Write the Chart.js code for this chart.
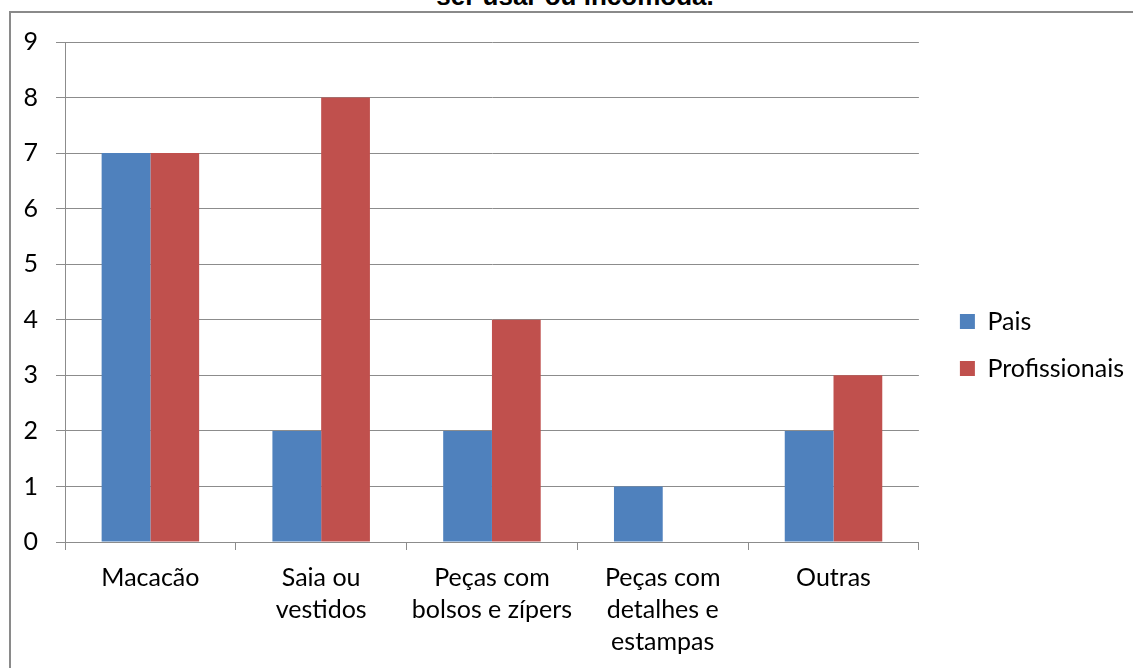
<!DOCTYPE html>
<html lang="pt">
<head>
    <meta charset="UTF-8">
    <title>Peças de roupa</title>
    <script src="https://cdn.jsdelivr.net/npm/chart.js"></script>
    <style>
        html, body {
            margin: 0;
            padding: 0;
            background: #ffffff;
            overflow: hidden;
        }
        .frame {
            position: absolute;
            left: 9px;
            top: 11px;
            width: 1300px;
            height: 800px;
            border: 2px solid #8a8a8a;
        }
        .chart-title {
            position: absolute;
            left: 0;
            width: 1150px;
            top: -19px;
            line-height: 30px;
            text-align: center;
            font-family: "Liberation Sans", Arial, sans-serif;
            font-weight: bold;
            font-size: 26px;
            color: #000;
        }
        .chart-box {
            position: absolute;
            left: 0;
            top: 0;
            width: 1133px;
            height: 668px;
        }
    </style>
</head>
<body>
    <div class="frame"></div>
    <div class="chart-title">ser usar ou incomoda.</div>
    <div class="chart-box">
        <canvas id="roupasChart"></canvas>
    </div>

    <script>
        // Categorias e valores
        const categories = [
            'Macacão',
            ['Saia ou', 'vestidos'],
            ['Peças com', 'bolsos e zípers'],
            ['Peças com', 'detalhes e', 'estampas'],
            'Outras'
        ];
        const paisValues = [7, 2, 2, 1, 2];
        const profissionaisValues = [7, 8, 4, 0, 3];
        const yTicks = [0, 1, 2, 3, 4, 5, 6, 7, 8, 9];

        const fontFamily = 'Lato, "Open Sans", sans-serif';
        const gridColor = '#8c8c8c';

        // move a legenda para junto da área do gráfico
        const legendShift = {
            id: 'legendShift',
            afterLayout(chart) {
                const lg = chart.legend;
                if (!lg) return;
                lg.left += 19;
                lg.right += 19;
                lg.top -= 10;
                lg.bottom -= 10;
            }
        };

        const ctx = document.getElementById('roupasChart').getContext('2d');
        const roupasChart = new Chart(ctx, {
            type: 'bar',
            data: {
                labels: categories,
                datasets: [{
                    label: 'Pais',
                    data: paisValues,
                    backgroundColor: '#4f81bd',
                    borderWidth: 0
                }, {
                    label: 'Profissionais',
                    data: profissionaisValues,
                    backgroundColor: '#c0504d',
                    borderWidth: 0
                }]
            },
            options: {
                responsive: true,
                maintainAspectRatio: false,
                animation: false,
                categoryPercentage: 0.571,
                barPercentage: 1,
                layout: {
                    padding: { left: 0, top: 42, right: 18, bottom: 0 }
                },
                plugins: {
                    title: { display: false },
                    tooltip: { enabled: false },
                    legend: {
                        position: 'right',
                        labels: {
                            boxWidth: 15,
                            boxHeight: 15,
                            padding: 22,
                            color: '#000',
                            font: { family: fontFamily, size: 25 }
                        }
                    }
                },
                scales: {
                    x: {
                        grid: {
                            display: true,
                            drawOnChartArea: false,
                            offset: true,
                            color: gridColor,
                            tickLength: 8
                        },
                        border: { color: gridColor },
                        ticks: {
                            color: '#000',
                            maxRotation: 0,
                            autoSkip: false,
                            padding: 12,
                            font: { family: fontFamily, size: 25, lineHeight: '32px' }
                        },
                        afterFit(scale) { scale.height = 126; }
                    },
                    y: {
                        min: 0,
                        max: 9,
                        afterBuildTicks(scale) {
                            scale.ticks = yTicks.map(v => ({ value: v }));
                        },
                        grid: {
                            color: gridColor,
                            tickLength: 9
                        },
                        border: { color: gridColor },
                        ticks: {
                            color: '#000',
                            padding: 18,
                            font: { family: fontFamily, size: 25 }
                        },
                        afterFit(scale) { scale.width = 65; }
                    }
                }
            },
            plugins: [legendShift]
        });
    </script>
</body>
</html>
